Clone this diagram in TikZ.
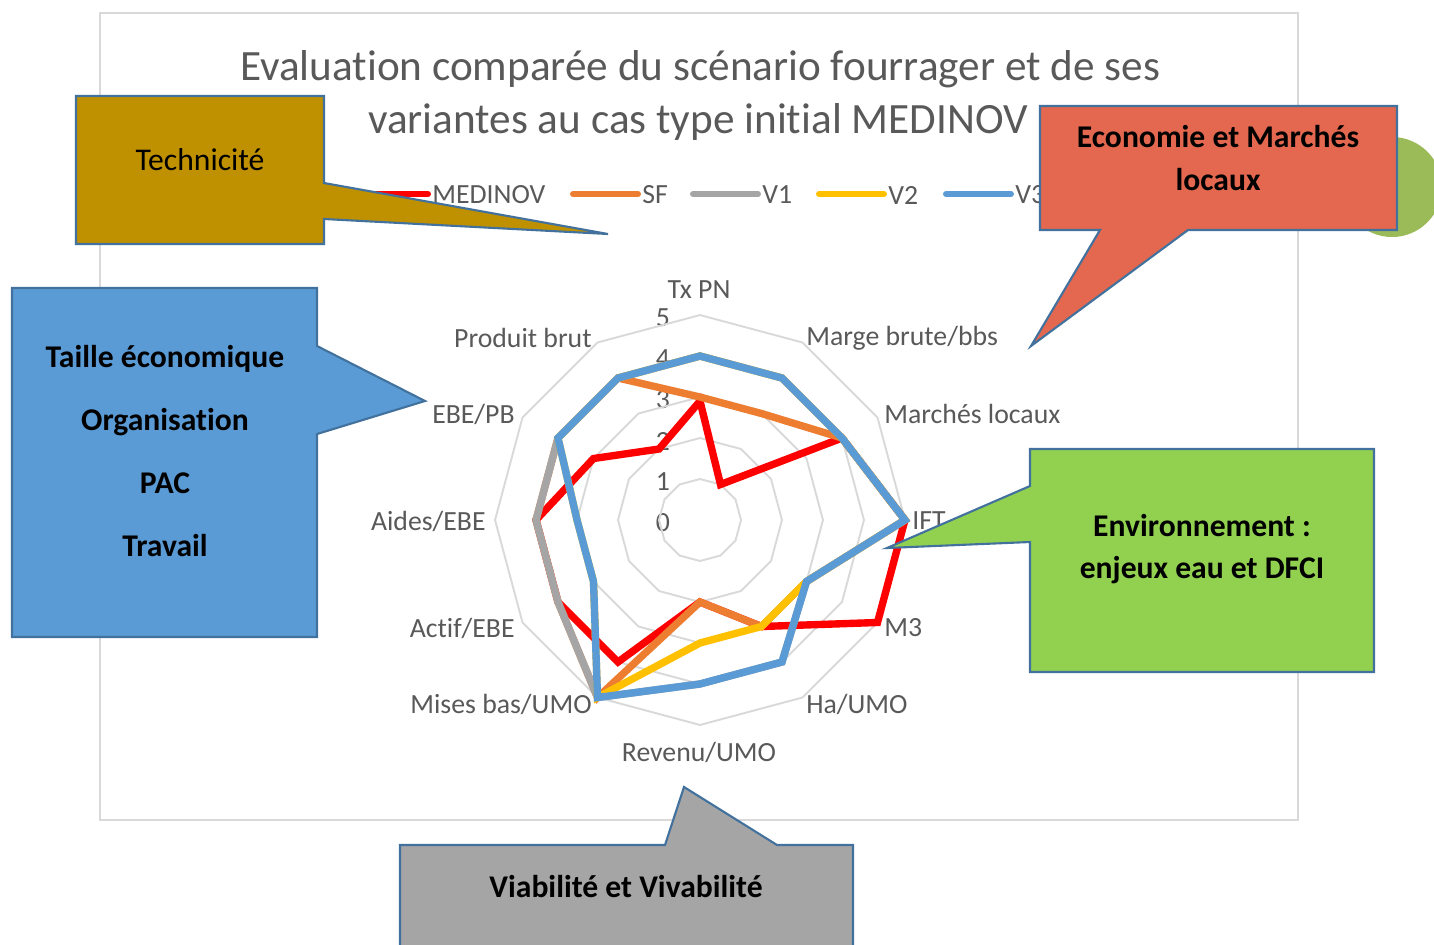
\documentclass[tikz,border=0pt]{standalone}
\usepackage{fontspec}
\setmainfont{Carlito}[Ligatures=NoCommon]
\usepackage{xcolor}
\usepackage{tikz}

\definecolor{ctexte}{HTML}{595959}
\definecolor{cgrille}{HTML}{D9D9D9}
\definecolor{cmed}{HTML}{FF0000}
\definecolor{csf}{HTML}{ED7D31}
\definecolor{cvun}{HTML}{A5A5A5}
\definecolor{cvdeux}{HTML}{FFC000}
\definecolor{cvtrois}{HTML}{5B9BD5}
\definecolor{cbord}{HTML}{41719C}
\definecolor{ctech}{HTML}{BF9000}
\definecolor{ceco}{HTML}{E3684F}
\definecolor{ctaille}{HTML}{5B9BD5}
\definecolor{cenv}{HTML}{92D050}
\definecolor{cviab}{HTML}{A5A5A5}
\definecolor{crond}{HTML}{9BBB59}

\begin{document}
\begin{tikzpicture}[x=0.02cm, y=-0.02cm]
\tikzstyle{grille}=[draw=cgrille, line width=1.1pt]
\tikzstyle{serie}=[line width=4.2pt]
\tikzstyle{leg}=[line width=3.4pt, line cap=round]
\tikzstyle{axe}=[text=ctexte, inner sep=0pt, font=\fontsize{15.8}{19}\selectfont]
\tikzstyle{titre}=[text=ctexte, inner sep=0pt, font=\fontsize{24.6}{30}\selectfont]
\tikzstyle{bulle}=[draw=cbord, line width=1.2pt]
\tikzstyle{texte bulle}=[align=center, inner sep=0pt, font=\bfseries\fontsize{18}{24}\selectfont]

\useasboundingbox (0,0) rectangle (1434,944);

% cadre du graphique
\draw[grille] (100,13) rectangle (1298,820);
\node[titre] (titre1) at (700,69) {Evaluation comparée du scénario fourrager et de ses};
\node[titre] (titre2) at (698,122) {variantes au cas type initial MEDINOV};

% legende
\foreach \x/\c/\t [count=\i] in {363/cmed/MEDINOV, 573/csf/SF, 693/cvun/V1, 819/cvdeux/V2, 946/cvtrois/V3}{
  \draw[leg, \c] (\x,194) -- ++(65,0);
  \node[axe, anchor=west] (leg\i) at (\x+69,195) {\t};
}

% graduations
\foreach \v in {0,...,5}
  \node[axe] (grad\v) at (663,523-41*\v) {\v};

\coordinate (c) at (700,520);
\begin{scope}[shift={(c)}, x=0.82cm, y=-0.82cm]
\foreach \r in {1,...,5}
  \draw[grille] (-90:\r) \foreach \k in {1,...,11}{ -- (-90+30*\k:\r)} -- cycle;

\draw[serie, cmed] (-90:2.9) -- (-60:1) -- (-30:4) -- (0:5) -- (30:5) -- (60:3)
  -- (90:2) -- (120:4) -- (150:4) -- (180:4) -- (210:3) -- (240:2) -- cycle;
\draw[serie, csf] (-90:3) -- (-60:3) -- (-30:4) -- (0:5) -- (30:3) -- (60:3)
  -- (90:2) -- (120:5) -- (150:4) -- (180:4) -- (210:4) -- (240:4) -- cycle;
\draw[serie, cvun] (-90:4) -- (-60:4) -- (-30:4) -- (0:5) -- (30:3) -- (60:4)
  -- (90:4) -- (120:5) -- (150:4) -- (180:4) -- (210:4) -- (240:4) -- cycle;
\draw[serie, cvdeux] (-90:4) -- (-60:4) -- (-30:4) -- (0:5) -- (30:3) -- (60:3)
  -- (90:3) -- (120:5) -- (150:3) -- (180:3) -- (210:4) -- (240:4) -- cycle;
\draw[serie, cvtrois] (-90:4) -- (-60:4) -- (-30:4) -- (0:5) -- (30:3) -- (60:4)
  -- (90:4) -- (120:5) -- (150:3) -- (180:3) -- (210:4) -- (240:4) -- cycle;
\end{scope}

% libelles des axes
\node[axe] (txpn) at (699,290) {Tx PN};
\node[axe, anchor=west] (marge) at (806,338) {Marge brute/bbs};
\node[axe, anchor=west] (marches) at (884,414) {Marchés locaux};
\node[axe, anchor=west] (ift) at (912,521) {IFT};
\node[axe, anchor=west] (mtrois) at (884,628) {M3};
\node[axe, anchor=west] (ha) at (806,704) {Ha/UMO};
\node[axe] (revenu) at (699,752) {Revenu/UMO};
\node[axe, anchor=east] (mises) at (592,704) {Mises bas/UMO};
\node[axe, anchor=east] (actif) at (515,628) {Actif/EBE};
\node[axe, anchor=east] (aides) at (486,521) {Aides/EBE};
\node[axe, anchor=east] (ebe) at (515,414) {EBE/PB};
\node[axe, anchor=east] (produit) at (592,338) {Produit brut};

% bulles
\fill[crond] (1392,187) circle (50);

\draw[bulle, fill=ctech] (76,96) -- (324,96) -- (324,183) -- (608,234) -- (324,219)
  -- (324,244) -- (76,244) -- cycle;
\node[font=\fontsize{18}{24}\selectfont, inner sep=0pt] (tech) at (200,160) {Technicité};

\draw[bulle, fill=ceco] (1040,106) -- (1397,106) -- (1397,230) -- (1188,230) -- (1031,346)
  -- (1100,230) -- (1040,230) -- cycle;
\node[texte bulle] (eco) at (1218,158) {Economie et Marchés\\locaux};

\draw[bulle, fill=ctaille] (12,288) -- (317,288) -- (317,346) -- (425,401) -- (317,434)
  -- (317,637) -- (12,637) -- cycle;
\node[texte bulle, font=\bfseries\fontsize{18}{36}\selectfont] (taille) at (165,451)
  {Taille économique\\Organisation\\PAC\\Travail};

\draw[bulle, fill=cenv] (1030,449) -- (1374,449) -- (1374,672) -- (1030,672) -- (1030,542)
  -- (887,548) -- (1030,486) -- cycle;
\node[texte bulle] (env) at (1202,549) {Environnement :\\enjeux eau et DFCI};

\draw[bulle, fill=cviab] (400,946) -- (400,845) -- (665,845) -- (684,787) -- (777,845)
  -- (853,845) -- (853,946);
\node[texte bulle] (viab) at (626,887) {Viabilité et Vivabilité};

\end{tikzpicture}
\end{document}
